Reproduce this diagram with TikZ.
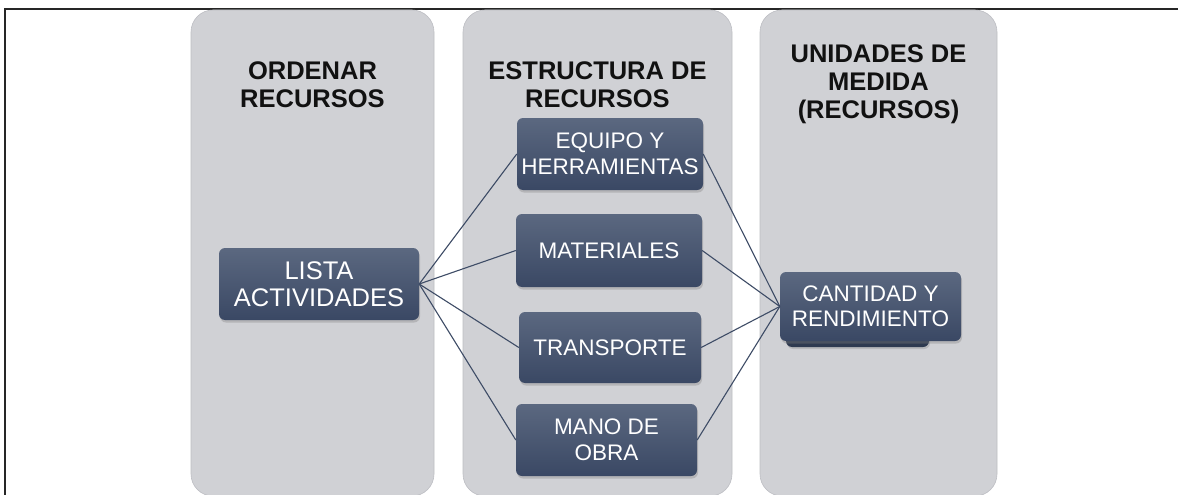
\documentclass[tikz,border=0pt]{standalone}
\usepackage{fontspec}
\setmainfont{Liberation Sans}
\usetikzlibrary{shadows}
\definecolor{panelgray}{HTML}{D0D1D5}
\definecolor{paneledge}{HTML}{BDBEC3}
\definecolor{boxtop}{HTML}{5B6880}
\definecolor{boxbot}{HTML}{3A4864}
\definecolor{backboxcol}{HTML}{2E3A50}
\definecolor{linecol}{HTML}{3E4C66}
\definecolor{titlecol}{HTML}{111111}
\tikzset{
 panel/.style={fill=panelgray, draw=paneledge, line width=0.6pt, rounded corners=22pt},
 bluebox/.style={rectangle, rounded corners=6pt, top color=boxtop, bottom color=boxbot, draw=none, text=white, align=center, font=\fontsize{22.5}{25.5}\selectfont, inner sep=0pt, drop shadow={shadow xshift=1pt, shadow yshift=-2.5pt, opacity=0.35}},
 backbox/.style={rectangle, rounded corners=6pt, fill=backboxcol, draw=none, inner sep=0pt, drop shadow={shadow xshift=1pt, shadow yshift=-2pt, opacity=0.3}},
 paneltitle/.style={align=center, font=\fontsize{25.5}{28}\selectfont\bfseries, text=titlecol, inner sep=0pt},
 conn/.style={draw=linecol, line width=1.1pt},
}
\begin{document}
\begin{tikzpicture}[x=1pt,y=-1pt]
\useasboundingbox (0,0) rectangle (1178,495);
\clip (0,0) rectangle (1178,495);
\fill[white] (0,0) rectangle (1178,495);
\draw[line width=2pt, draw=black!85] (4.5,9.5) rectangle (1200,520);
% panels
\path[panel] (191,10) rectangle (434,496);
\path[panel] (463,10) rectangle (732,496);
\path[panel] (760,10) rectangle (997,496);
% titles
\node[paneltitle] (t1) at (312.5,84.5) {ORDENAR\\RECURSOS};
\node[paneltitle] (t2) at (597.5,84.5) {ESTRUCTURA DE\\RECURSOS};
\node[paneltitle] (t3) at (878.5,84) {UNIDADES DE\\MEDIDA\\(RECURSOS)};
% boxes
\node[bluebox, minimum width=200pt, minimum height=72pt, font=\fontsize{25.5}{27.5}\selectfont] (lista) at (319,284) {LISTA\\ACTIVIDADES};
\node[bluebox, minimum width=186pt, minimum height=72pt] (equipo) at (610,154) {EQUIPO Y\\HERRAMIENTAS};
\node[bluebox, minimum width=186pt, minimum height=73pt] (mat) at (609,250.5) {MATERIALES};
\node[bluebox, minimum width=182pt, minimum height=71pt] (trans) at (610,347.5) {TRANSPORTE};
\node[bluebox, minimum width=181pt, minimum height=72pt] (mano) at (606.5,440) {MANO DE\\OBRA};
\node[backbox, minimum width=143pt, minimum height=64pt] (back) at (857.5,315) {};
\node[bluebox, minimum width=181pt, minimum height=69pt] (cant) at (870.5,306.5) {CANTIDAD Y\\RENDIMIENTO};
% connectors
\draw[conn] (lista.east) -- (equipo.west);
\draw[conn] (lista.east) -- (mat.west);
\draw[conn] (lista.east) -- (trans.west);
\draw[conn] (lista.east) -- (mano.west);
\draw[conn] (equipo.east) -- (cant.west);
\draw[conn] (mat.east) -- (cant.west);
\draw[conn] (trans.east) -- (cant.west);
\draw[conn] (mano.east) -- (cant.west);
\end{tikzpicture}
\end{document}
